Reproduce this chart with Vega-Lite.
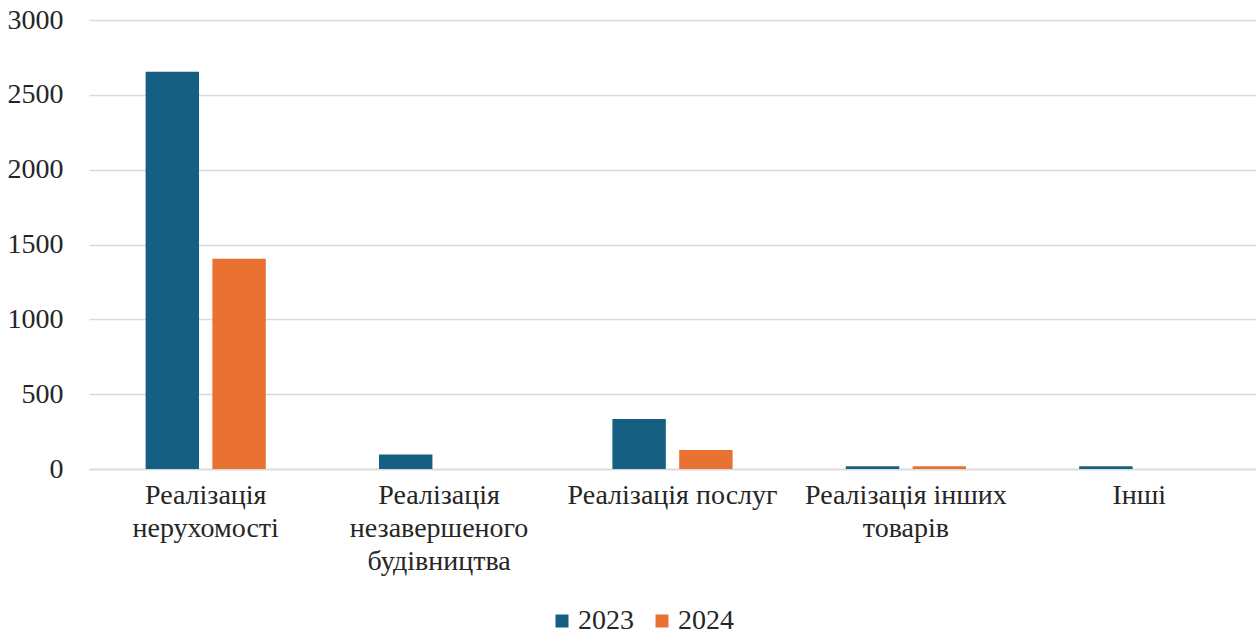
{
  "$schema": "https://vega.github.io/schema/vega-lite/v6.json",
  "autosize": {"type": "fit", "contains": "padding"},
  "padding": {"left": 7, "top": 6, "right": 0, "bottom": 60},
  "width": 1256,
  "height": 635,
  "background": "white",
  "data": {
    "values": [
      {"category": "Реалізація|нерухомості", "order": 1, "year": "2023", "value": 2655},
      {"category": "Реалізація|нерухомості", "order": 1, "year": "2024", "value": 1405},
      {"category": "Реалізація|незавершеного|будівництва", "order": 2, "year": "2023", "value": 97},
      {"category": "Реалізація|незавершеного|будівництва", "order": 2, "year": "2024", "value": 0},
      {"category": "Реалізація послуг", "order": 3, "year": "2023", "value": 334},
      {"category": "Реалізація послуг", "order": 3, "year": "2024", "value": 127},
      {"category": "Реалізація інших|товарів", "order": 4, "year": "2023", "value": 18},
      {"category": "Реалізація інших|товарів", "order": 4, "year": "2024", "value": 18},
      {"category": "Інші", "order": 5, "year": "2023", "value": 18},
      {"category": "Інші", "order": 5, "year": "2024", "value": 0}
    ]
  },
  "mark": {"type": "bar"},
  "encoding": {
    "x": {
      "field": "category",
      "type": "nominal",
      "sort": {"field": "order"},
      "scale": {"paddingInner": 0.485, "paddingOuter": 0.2425},
      "axis": {
        "title": null,
        "labelAngle": 0,
        "labelExpr": "split(datum.label, '|')",
        "labelFont": "Times New Roman, Liberation Serif, Noto Serif, DejaVu Serif, serif",
        "labelFontSize": 28,
        "labelColor": "#262626",
        "labelLineHeight": 33,
        "labelPadding": 12,
        "labelLimit": 0,
        "ticks": false,
        "domain": true,
        "domainColor": "#d9d9d9",
        "domainWidth": 1.5,
        "grid": false
      }
    },
    "xOffset": {
      "field": "year",
      "type": "nominal",
      "scale": {"paddingInner": 0.2, "paddingOuter": 0}
    },
    "y": {
      "field": "value",
      "type": "quantitative",
      "scale": {"domain": [0, 3000], "nice": false},
      "axis": {
        "title": null,
        "values": [0, 500, 1000, 1500, 2000, 2500, 3000],
        "format": "d",
        "labelFont": "Times New Roman, Liberation Serif, Noto Serif, DejaVu Serif, serif",
        "labelFontSize": 28,
        "labelColor": "#262626",
        "labelPadding": 26,
        "ticks": false,
        "domain": false,
        "grid": true,
        "gridColor": "#d9d9d9",
        "gridWidth": 1.5
      }
    },
    "color": {
      "field": "year",
      "type": "nominal",
      "scale": {"domain": ["2023", "2024"], "range": ["#156082", "#E97132"]},
      "legend": {
        "title": null,
        "orient": "none",
        "direction": "horizontal",
        "legendX": 459,
        "legendY": 587,
        "symbolType": "square",
        "symbolSize": 169,
        "symbolStrokeWidth": 0,
        "labelFont": "Times New Roman, Liberation Serif, Noto Serif, DejaVu Serif, serif",
        "labelFontSize": 28,
        "labelColor": "#262626",
        "labelOffset": 2,
        "columnPadding": 14
      }
    }
  },
  "config": {"view": {"stroke": null}}
}
